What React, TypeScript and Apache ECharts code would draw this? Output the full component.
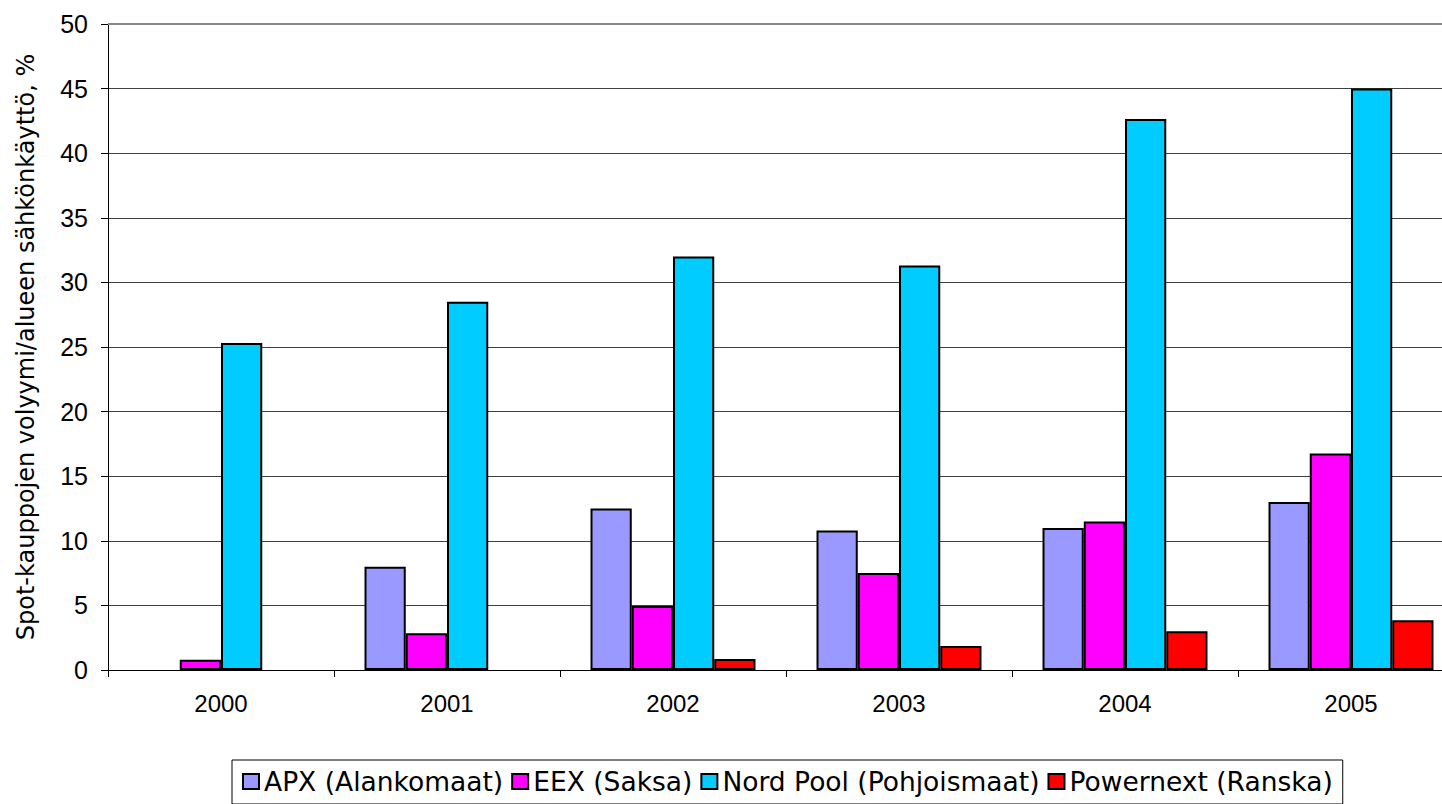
import React, { useEffect, useRef } from "react";
import * as echarts from "echarts";

const categories = ["2000", "2001", "2002", "2003", "2004", "2005"];
const apx = [null, 8.0, 12.5, 10.8, 11.0, 13.0];
const eex = [0.8, 2.85, 4.95, 7.5, 11.5, 16.75];
const nordPool = [25.3, 28.5, 32.0, 31.3, 42.65, 45.0];
const powernext = [null, null, 0.85, 1.85, 3.0, 3.85];
const seriesNames = [
  "APX (Alankomaat)",
  "EEX (Saksa)",
  "Nord Pool (Pohjoismaat)",
  "Powernext (Ranska)",
];
const colors = ["#9999FF", "#FF00FF", "#00CCFF", "#FF0000"];
const yTitle = "Spot-kauppojen volyymi/alueen sähkönkäyttö, %";
const yMax = 50;

const FONT = "'Liberation Sans', Arial, sans-serif";
const WIDE = "'DejaVu Sans', sans-serif";

export default function App() {
  const ref = useRef<HTMLDivElement>(null);
  useEffect(() => {
    if (!ref.current) return;
    const chart = echarts.init(ref.current, undefined, { renderer: "svg" });
    const data = [apx, eex, nordPool, powernext];
    chart.setOption({
      animation: false,
      backgroundColor: "#ffffff",
      textStyle: { fontFamily: FONT },
      grid: { left: 108, right: 36, top: 24, bottom: 830 - 670, containLabel: false },
      legend: {
        left: 232,
        top: 760,
        data: seriesNames,
        icon: "rect",
        itemWidth: 16,
        itemHeight: 15,
        itemGap: 8,
        borderColor: "#000",
        borderWidth: 1,
        padding: [8, 10, 9, 10],
        textStyle: { fontSize: 26.5, color: "#000", fontFamily: WIDE },
      },
      xAxis: {
        type: "category",
        data: categories,
        boundaryGap: true,
        axisLine: { lineStyle: { color: "#000", width: 1 } },
        axisTick: { show: true, length: 7, lineStyle: { color: "#000" } },
        axisLabel: { fontSize: 24, color: "#000", margin: 21, fontFamily: FONT },
      },
      yAxis: {
        type: "value",
        min: 0,
        max: yMax,
        interval: 5,
        name: yTitle,
        nameLocation: "middle",
        nameGap: 70,
        nameTextStyle: { fontSize: 24, color: "#000", fontFamily: WIDE },
        axisLine: { show: true, lineStyle: { color: "#000", width: 1 } },
        axisTick: { show: true, length: 7, lineStyle: { color: "#000" } },
        axisLabel: { fontSize: 25, color: "#000", margin: 20, fontFamily: FONT },
        splitLine: { show: true, lineStyle: { color: "#404040", width: 1 } },
      },
      series: seriesNames.map((name, i) => ({
        name,
        type: "bar",
        data: data[i],
        barGap: "0%",
        barCategoryGap: "27%",
        itemStyle: { color: colors[i], borderColor: "#000", borderWidth: 2 },
        ...(i === 0
          ? {
              markLine: {
                silent: true,
                symbol: "none",
                label: { show: false },
                lineStyle: { color: "#888", width: 2, type: "solid" },
                data: [{ yAxis: yMax }],
              },
            }
          : {}),
      })),
    });
    return () => chart.dispose();
  }, []);
  return (
    <div style={{ position: "absolute", left: 0, top: 0, width: 1442, height: 804, overflow: "hidden", background: "#fff" }}>
      <div ref={ref} style={{ position: "absolute", left: 0, top: 0, width: 1500, height: 830 }} />
    </div>
  );
}
